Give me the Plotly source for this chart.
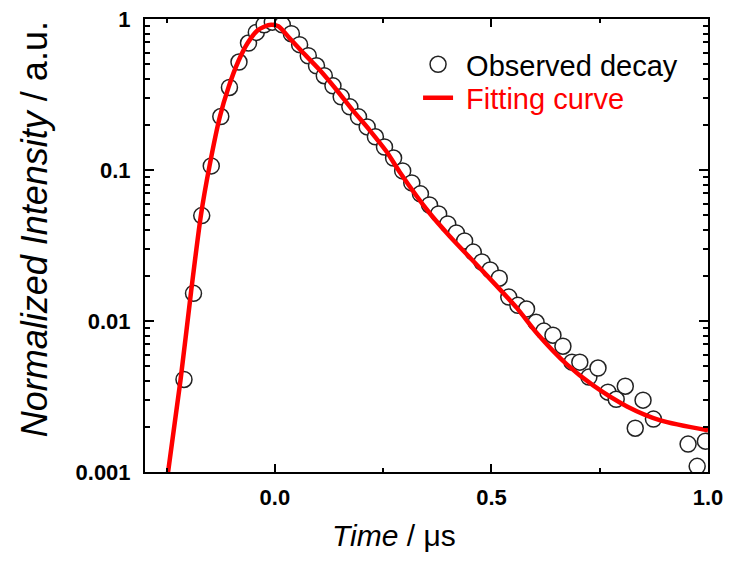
import plotly.graph_objects as go

# Observed decay (time in microseconds, normalized intensity)
obs_time = [-0.210, -0.188, -0.169, -0.147, -0.125, -0.105, -0.083, -0.061, -0.043, -0.025,
            -0.006, 0.017, 0.038, 0.057, 0.077, 0.096, 0.114, 0.134, 0.153, 0.173,
            0.193, 0.213, 0.232, 0.253, 0.274, 0.295, 0.316, 0.336, 0.357, 0.378,
            0.399, 0.419, 0.438, 0.458, 0.478, 0.497, 0.518, 0.540, 0.561, 0.581,
            0.603, 0.621, 0.642, 0.665, 0.686, 0.704, 0.725, 0.746, 0.769, 0.788,
            0.809, 0.832, 0.850, 0.874, 0.954, 0.975, 0.994]
obs_int = [0.00410, 0.01524, 0.0499, 0.1064, 0.226, 0.352, 0.519, 0.693, 0.815, 0.916,
           0.953, 0.916, 0.799, 0.676, 0.571, 0.490, 0.421, 0.361, 0.305, 0.262,
           0.225, 0.193, 0.166, 0.142, 0.120, 0.0986, 0.0821, 0.0695, 0.0587, 0.0512,
           0.0439, 0.0383, 0.0339, 0.0286, 0.0246, 0.0218, 0.0192, 0.0144, 0.0127, 0.0120,
           0.00981, 0.00857, 0.00805, 0.00681, 0.00534, 0.00534, 0.00425, 0.00488, 0.00338, 0.00303,
           0.00370, 0.00195, 0.00299, 0.00224, 0.00153, 0.00109, 0.00160]

# Fitting curve
fit_time = [-0.250, -0.218, -0.194, -0.171, -0.151, -0.127, -0.107, -0.085, -0.063,
            -0.041, -0.025, -0.009, 0.008, 0.033, 0.063, 0.103, 0.142, 0.179, 0.218,
            0.258, 0.288, 0.357, 0.403, 0.480, 0.559, 0.605, 0.674, 0.734, 0.813,
            0.890, 1.000]
fit_int = [0.00085, 0.00406, 0.0153, 0.0499, 0.1064, 0.226, 0.354, 0.521, 0.693,
           0.836, 0.889, 0.917, 0.896, 0.752, 0.607, 0.461, 0.340, 0.250, 0.1846,
           0.132, 0.0971, 0.0519, 0.0366, 0.0214, 0.01217, 0.00830, 0.00516, 0.00376, 0.00272,
           0.00220, 0.00189]

x_tickvals = [0.0, 0.5, 1.0]
x_ticktext = ["0.0", "0.5", "1.0"]
y_tickvals = [0.001, 0.01, 0.1, 1]
y_ticktext = ["0.001", "0.01", "0.1", "1"]
y_minor_vals = [m * 10 ** e for e in (-3, -2, -1) for m in range(2, 10)]

FONT = "Liberation Sans, Arial, sans-serif"
NB = "\u00a0"

fig = go.Figure()
fig.add_trace(go.Scatter(
    x=obs_time, y=obs_int, mode="markers",
    name=NB + "Observed decay", legend="legend",
    marker=dict(symbol="circle", size=16, color="white",
                line=dict(color="#222222", width=1.5)),
))
fig.add_trace(go.Scatter(
    x=fit_time, y=fit_int, mode="lines",
    name=NB + "<span style='color:#ff0000'>Fitting curve</span>", legend="legend2",
    line=dict(color="#ff0000", width=4.5, shape="spline", smoothing=0.7),
))

legend_common = dict(xanchor="left", yanchor="top", bgcolor="rgba(0,0,0,0)",
                     font=dict(size=29, family=FONT, color="black"))

fig.update_layout(
    # page body has an 8px margin, so the figure is 8px smaller than the window
    width=723, height=555,
    margin=dict(l=137, r=23, t=11, b=91, autoexpand=False),
    paper_bgcolor="white", plot_bgcolor="white",
    font=dict(family=FONT, color="black"),
    showlegend=True,
    legend=dict(x=0.485, y=0.956, **legend_common),
    legend2=dict(x=0.485, y=0.882, **legend_common),
    xaxis=dict(
        range=[-0.3, 1.0], showgrid=False, zeroline=False, automargin=False,
        showline=True, linecolor="black", linewidth=2, mirror="ticks",
        ticks="inside", ticklen=8, tickwidth=1.5, tickcolor="black",
        tickmode="array", tickvals=x_tickvals, ticktext=x_ticktext,
        tickfont=dict(size=22, family=FONT, weight="bold", color="black"),
        ticklabelstandoff=5, ticklabeloverflow="allow",
        minor=dict(ticks="inside", ticklen=4, tickwidth=1.5, tickcolor="black",
                   dtick=0.25, tick0=0, showgrid=False),
    ),
    yaxis=dict(
        type="log", range=[-3, 0], showgrid=False, zeroline=False, automargin=False,
        showline=True, linecolor="black", linewidth=2, mirror="ticks",
        ticks="inside", ticklen=9, tickwidth=1.5, tickcolor="black",
        tickmode="array", tickvals=y_tickvals, ticktext=y_ticktext,
        tickfont=dict(size=22, family=FONT, weight="bold", color="black"),
        ticklabelstandoff=8, ticklabeloverflow="allow",
        minor=dict(ticks="inside", ticklen=5, tickwidth=1.5, tickcolor="black",
                   tickmode="array", tickvals=y_minor_vals, showgrid=False),
    ),
    annotations=[
        dict(text="<i>Normalized Intensity</i> / a.u.", textangle=-90,
             xref="paper", yref="paper", x=-0.197, y=0.536,
             xanchor="center", yanchor="middle", showarrow=False,
             font=dict(size=36, family=FONT, color="black")),
        dict(text="<i>Time</i> / μs",
             xref="paper", yref="paper", x=0.442, y=-0.140,
             xanchor="center", yanchor="middle", showarrow=False,
             font=dict(size=30, family=FONT, color="black")),
    ],
)

fig.write_html("out.html")
